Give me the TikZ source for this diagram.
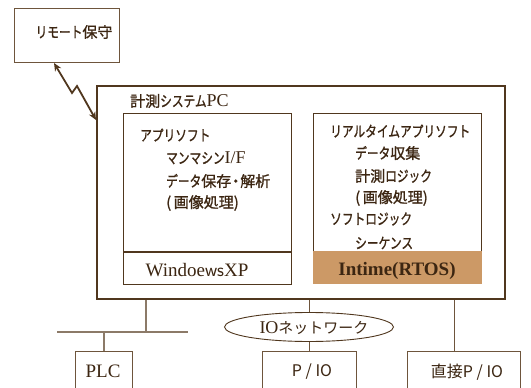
\documentclass[tikz,border=0pt]{standalone}
\usepackage{graphicx}
\usepackage{fontspec}
\setmainfont{Liberation Serif}
\newfontfamily\jp[FakeBold=1.2]{Noto Sans CJK JP}
\newfontfamily\jpl{Noto Sans CJK JP}
\usetikzlibrary{shapes.geometric,arrows.meta}
\definecolor{lc}{RGB}{80,55,30}
\definecolor{thinc}{RGB}{110,85,60}
\definecolor{busc}{RGB}{140,122,104}
\definecolor{tc}{RGB}{60,38,18}
\definecolor{fillc}{RGB}{204,153,102}
\newcommand\hk[1]{\scalebox{0.78}[1]{#1}}
\newcommand\lat[1]{{\rmfamily\fontsize{18}{20}\selectfont #1}}
\tikzset{
  jt/.style={font=\jp\fontsize{15}{17}\selectfont, text=tc, anchor=west, inner sep=0pt},
  lt/.style={font=\rmfamily\fontsize{19}{22}\selectfont, text=tc, inner sep=0pt},
  box/.style={draw=lc, line width=1.1pt, inner sep=0pt, fill=white},
  lowbox/.style={draw=thinc, line width=0.9pt, inner sep=0pt, anchor=north west},
  bus/.style={draw=busc, line width=1.5pt},
  link/.style={draw=thinc, line width=0.9pt},
}
\begin{document}
\begin{tikzpicture}[x=1pt,y=-1pt]
\clip (0,0) rectangle (531,388);
\fill[white] (0,0) rectangle (531,388);

% remote box
\node[draw=thinc, line width=1pt, minimum width=105pt, minimum height=54pt, anchor=north west, inner sep=0pt] (remote) at (14,8) {};
\node[jt, anchor=center] (remotet) at (74,32) {\hk{リモート}保守};

% main PC box
\node[draw=lc, line width=2.4pt, minimum width=408pt, minimum height=213pt, anchor=north west, inner sep=0pt] (pc) at (96,85) {};
\node[jt] (pct) at (130,101) {計測\hk{システム}\lat{PC}};

% lightning link
\coordinate (z1) at (72,93);
\coordinate (z2) at (77,86);
\draw[draw=lc, line width=1.8pt, {Stealth[length=8pt,width=7pt]}-{Stealth[length=8pt,width=7pt]}]
  ([xshift=-13pt]remote.south) -- (z1) -- (z2) -- (pc.west |- 0,120);

% left inner box
\node[box, minimum width=168pt, minimum height=171pt, anchor=north west] (app) at (123,113) {};
\draw[draw=lc, line width=1.1pt] ([yshift=-139pt]app.north west) -- ([yshift=-139pt]app.north east);
\node[lt, anchor=center] (win) at (197,270) {Windoe\textsf{ws}XP};
\node[jt] (a1) at (140,135) {\hk{アプリソフト}};
\node[jt] (a2) at (166,158) {\hk{マンマシン}\lat{I/F}};
\node[jt] (a3) at (166,181) {\hk{データ}保存\hspace{-3pt}・\hspace{-3pt}解析};
\node[jt] (a4) at (166,203) {(\,画像処理)};

% right inner box
\node[box, minimum width=168pt, minimum height=138pt, anchor=north west] (rt) at (313,113) {};
\node[fill=fillc, minimum width=169pt, minimum height=33pt, anchor=north west, inner sep=0pt] (rtos) at (312.5,251) {};
\node[lt, font=\rmfamily\bfseries\fontsize{19}{22}\selectfont, anchor=center] (rtost) at (397,271) {Intime(RTOS)};
\node[jt] (r1) at (330,131) {\hk{リアルタイムアプリソフト}};
\node[jt] (r2) at (355,153) {\hk{データ}収集};
\node[jt] (r3) at (355,176) {計測\hk{ロジック}};
\node[jt] (r4) at (355,198) {(\,画像処理)};
\node[jt] (r5) at (330,219) {\hk{ソフトロジック}};
\node[jt] (r6) at (355,243) {\hk{シーケンス}};

% bottom devices
\node[lowbox, minimum width=57pt, minimum height=50pt] (plc) at (75,351) {};
\node[lt, anchor=center] (plct) at (103,371) {PLC};
\node[lowbox, minimum width=94pt, minimum height=50pt] (pio) at (262,351) {};
\node[font=\jpl\fontsize{16}{18}\selectfont, text=tc, inner sep=0pt] (piot) at (312,372) {P / IO};
\node[lowbox, minimum width=113pt, minimum height=50pt] (dio) at (407,351) {};
\node[font=\jpl\fontsize{16}{18}\selectfont, text=tc, inner sep=0pt] (diot) at (467,372) {直接P / IO};

% network ellipse
\node[ellipse, draw=lc, line width=0.9pt, minimum width=169pt, minimum height=29pt, inner sep=0pt] (net) at (309,327) {};
\node[font=\jpl\fontsize{15}{17}\selectfont, text=tc, inner sep=0pt] (nett) at (314,328) {\lat{IO}ネットワーク};

% bus lines
\coordinate (b1) at (146,332);
\coordinate (bl) at (57,332);
\coordinate (br) at (188,332);
\draw[bus] (pc.south -| b1) -- (b1);
\draw[bus] (bl) -- (br);
\draw[bus] (plc.north) -- (plc.north |- b1);
\draw[link] (pc.south -| net.north) -- (net.north);
\draw[link] (net.south) -- (pio.north -| net.south);
\coordinate (rx) at (454,0);
\draw[link] (pc.south -| rx) -- (dio.north -| rx);
\end{tikzpicture}
\end{document}
